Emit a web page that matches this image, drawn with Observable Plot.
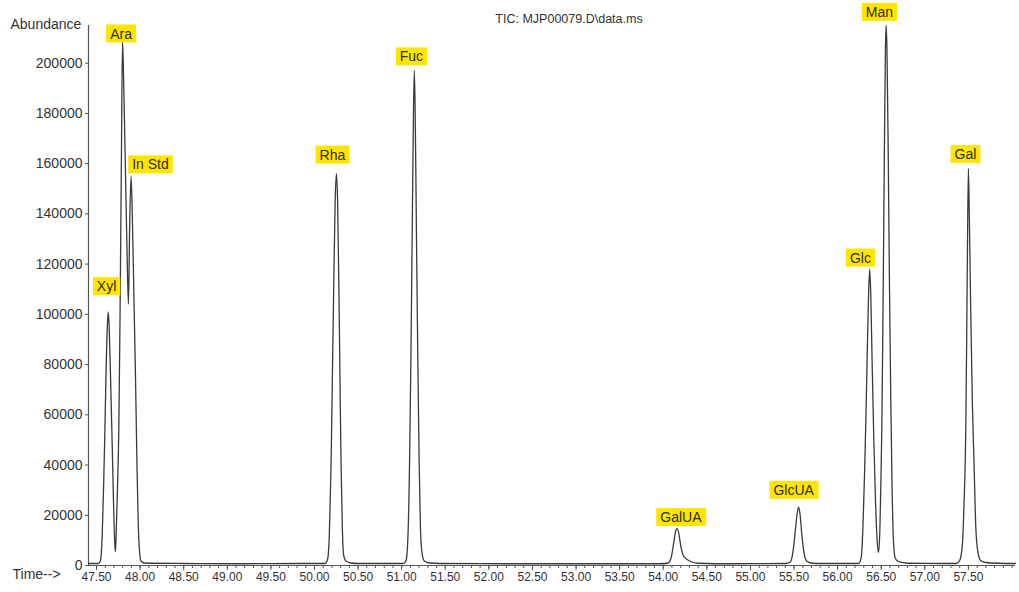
<!DOCTYPE html>
<html><head><meta charset="utf-8">
<script src="https://cdn.jsdelivr.net/npm/d3@7"></script>
<script src="https://cdn.jsdelivr.net/npm/@observablehq/plot@0.6"></script>
<style>body{margin:0;background:#fff;}</style>
</head><body><div id="chart"></div>
<script>
// Total ion chromatogram (time in min, abundance in counts)
const traceTime = [
  47.41, 47.52, 47.545, 47.565, 47.58, 47.595, 47.61, 47.625, 47.634, 47.645, 47.66, 47.68, 47.695, 47.708, 47.716,
  47.725, 47.74, 47.756, 47.77, 47.785, 47.798, 47.81, 47.83, 47.85, 47.866, 47.88, 47.896,
  47.91, 47.93, 47.947, 47.965, 47.98, 47.995, 48.01, 48.05, 48.5, 49.2, 49.8,
  50.12, 50.15, 50.17, 50.19, 50.205, 50.22, 50.237, 50.252, 50.265, 50.28, 50.292, 50.305, 50.32, 50.335, 50.36, 50.42, 50.5,
  51.02, 51.05, 51.07, 51.09, 51.105, 51.12, 51.135, 51.145, 51.155, 51.17, 51.185, 51.2, 51.215, 51.235, 51.26, 51.32, 51.45,
  52.2, 53.0, 53.6, 53.95, 54.05, 54.09, 54.12, 54.145, 54.16, 54.18, 54.2, 54.23, 54.27, 54.32, 54.4, 54.8,
  55.4, 55.46, 55.49, 55.515, 55.535, 55.553, 55.57, 55.59, 55.615, 55.645, 55.7, 55.8,
  56.24, 56.27, 56.29, 56.31, 56.325, 56.34, 56.355, 56.368, 56.38, 56.395, 56.415, 56.435, 56.455, 56.47,
  56.485, 56.497, 56.507, 56.52, 56.535, 56.548, 56.556, 56.566, 56.58, 56.595, 56.61, 56.625, 56.64, 56.66, 56.7, 56.8,
  57.2, 57.36, 57.4, 57.43, 57.45, 57.47, 57.48, 57.49, 57.5, 57.51, 57.525, 57.545, 57.565, 57.585, 57.61, 57.64, 57.7, 57.85, 58.04
];
const traceAbundance = [
  800, 800, 2000, 12000, 30000, 52000, 78000, 96000, 101000, 95000, 76000, 48000, 25000, 10000, 5500,
  12000, 30000, 55000, 100000, 160000, 209000, 195000, 160000, 125000, 104000, 135000, 155000,
  140000, 105000, 75000, 38000, 15000, 5000, 1800, 1000, 800, 700, 800,
  800, 2500, 12000, 40000, 75000, 110000, 145000, 156000, 145000, 110000, 75000, 40000, 14000, 4000, 1800, 1000, 800,
  800, 2000, 10000, 40000, 80000, 130000, 180000, 197000, 180000, 130000, 82000, 42000, 15000, 4500, 1800, 1000, 800,
  700, 700, 700, 700, 900, 3000, 9000, 14000, 14700, 12500, 8000, 4000, 2500, 1500, 900, 700,
  800, 1500, 6000, 14000, 20500, 23200, 20000, 12000, 5000, 1800, 1000, 800,
  800, 3000, 15000, 38000, 60000, 85000, 108000, 118000, 108000, 82000, 50000, 25000, 9000, 5200,
  15000, 35000, 55000, 100000, 160000, 205000, 215000, 205000, 165000, 110000, 65000, 30000, 10000, 3000, 1500, 900,
  800, 800, 2000, 8000, 25000, 55000, 90000, 130000, 158000, 140000, 105000, 65000, 40000, 15000, 5000, 2000, 1200, 900, 800
];

// Peak labels (centre of each yellow tag, in data units)
const labelNames = ["Xyl", "Ara", "In Std", "Rha", "Fuc", "GalUA", "GlcUA", "Glc", "Man", "Gal"];
const labelTime = [47.615, 47.781, 48.119, 50.206, 51.112, 54.202, 55.496, 56.262, 56.479, 57.466];
const labelAbundance = [111000, 211600, 159500, 163400, 202500, 19100, 29900, 122400, 220200, 163600];

// Axes
const xTickValues = [47.5, 48, 48.5, 49, 49.5, 50, 50.5, 51, 51.5, 52, 52.5, 53, 53.5, 54, 54.5, 55, 55.5, 56, 56.5, 57, 57.5];
const yTickValues = [0, 20000, 40000, 60000, 80000, 100000, 120000, 140000, 160000, 180000, 200000];
const xDomain = [47.408, 58.04];
const yDomain = [0, 215000];
const titleText = "TIC: MJP00079.D\\data.ms";
const yLabelText = "Abundance";
const xLabelText = "Time-->";

const trace = traceTime.map((t, i) => ({t, a: traceAbundance[i]}));
const labels = labelNames.map((n, i) => ({n, t: labelTime[i], a: labelAbundance[i]}));
const minorTicks = d3.range(475, 581).map(d => d / 10);

const ink = "#333";
const chart = Plot.plot({
  width: 1019,
  height: 592,
  marginLeft: 88,
  marginRight: 4,
  marginTop: 25,
  marginBottom: 27,
  style: {fontFamily: "'Liberation Sans', Arial, sans-serif", background: "#fff", color: ink},
  x: {domain: xDomain},
  y: {domain: yDomain},
  marks: [
    Plot.axisX({ticks: minorTicks, tickSize: 3, tickFormat: () => "", label: null, stroke: "#555"}),
    Plot.axisX({ticks: xTickValues, tickSize: 5, tickPadding: 2, tickFormat: d3.format(".2f"), label: null, fontSize: 12, fill: ink, stroke: "#555"}),
    Plot.axisY({ticks: yTickValues, tickSize: 3, tickPadding: 3, tickFormat: d3.format("d"), label: null, fontSize: 14, fill: ink, stroke: "#555"}),
    Plot.ruleX([xDomain[0]], {stroke: "#555", strokeWidth: 1.2}),
    Plot.ruleY([0], {stroke: "#555", strokeWidth: 1.2}),
    Plot.line(trace, {x: "t", y: "a", curve: "monotone-x", stroke: "#3a3a3a", strokeWidth: 1.3}),
    Plot.text(labels, {x: "t", y: "a", text: "n", fontSize: 14, fill: "#2d2d10"}),
    Plot.text([titleText], {text: d => d, frameAnchor: "top", dx: 17, dy: -11, fontSize: 12.5, fill: ink}),
    Plot.text([yLabelText], {text: d => d, frameAnchor: "top-left", textAnchor: "start", dx: -78, dy: -6, fontSize: 14, fill: ink}),
    Plot.text([xLabelText], {text: d => d, frameAnchor: "bottom-left", textAnchor: "start", dx: -76, dy: 13, fontSize: 14, fill: ink})
  ]
});
document.getElementById("chart").appendChild(chart);

// yellow tags behind the peak labels
const svgNS = "http://www.w3.org/2000/svg";
chart.querySelectorAll("text").forEach(txt => {
  if (!labelNames.includes(txt.textContent)) return;
  const bb = txt.getBBox();
  const r = document.createElementNS(svgNS, "rect");
  r.setAttribute("x", bb.x - 4);
  r.setAttribute("y", bb.y - 1);
  r.setAttribute("width", bb.width + 8);
  r.setAttribute("height", bb.height + 2);
  r.setAttribute("fill", "#ffe500");
  r.setAttribute("stroke", "none");
  const tr = txt.getAttribute("transform");
  if (tr) r.setAttribute("transform", tr);
  txt.parentNode.insertBefore(r, txt);
});
</script>
</body></html>
